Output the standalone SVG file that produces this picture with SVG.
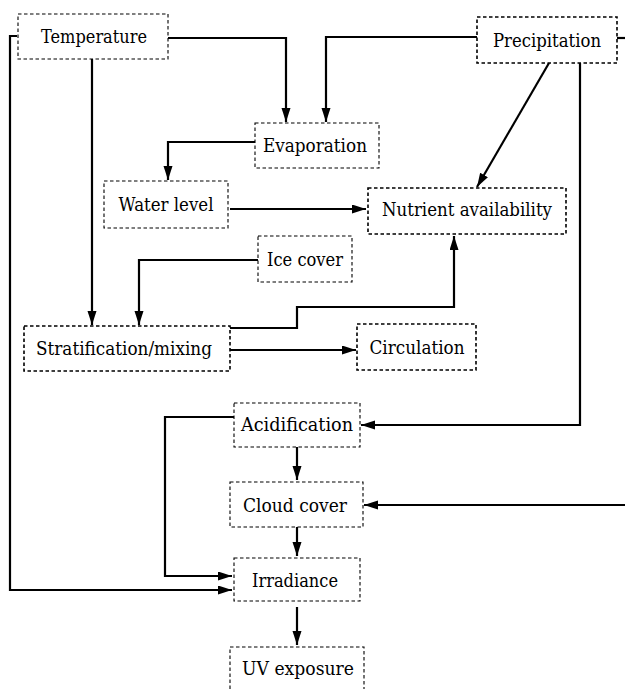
<svg xmlns="http://www.w3.org/2000/svg" width="625" height="689" viewBox="0 0 625 689">
<style>
.box{fill:#fff;stroke:#000;stroke-width:1.1;stroke-dasharray:3.5 2.5}
.bold{stroke-width:1.6}
.lbl{font-family:'DejaVu Serif','Liberation Serif',serif;font-size:19px;fill:#000;text-anchor:middle}
.c{fill:none;stroke:#000;stroke-width:2.2}
</style>
<defs>
<marker id="ah" markerUnits="userSpaceOnUse" markerWidth="16" markerHeight="11" refX="14" refY="4.5" orient="auto">
<path d="M0,0 L14,4.5 L0,9 z" fill="#000"/>
</marker>
</defs>
<rect width="625" height="689" fill="#fff"/>
<g id="connectors">
<path class="c" d="M17,36 H10 V590 H232" marker-end="url(#ah)"/>
<path class="c" d="M168,38 H286 V122" marker-end="url(#ah)"/>
<path class="c" d="M92,59 V325" marker-end="url(#ah)"/>
<path class="c" d="M477,37 H326 V122" marker-end="url(#ah)"/>
<path class="c" d="M617,38 H625"/>
<path class="c" d="M255,142 H168 V180" marker-end="url(#ah)"/>
<path class="c" d="M230,209 H366" marker-end="url(#ah)"/>
<path class="c" d="M549,63 L477,187" marker-end="url(#ah)"/>
<path class="c" d="M580,63 V425 H361" marker-end="url(#ah)"/>
<path class="c" d="M258,260 H139 V325" marker-end="url(#ah)"/>
<path class="c" d="M230,328 H297 V307 H454 V236" marker-end="url(#ah)"/>
<path class="c" d="M230,350 H356" marker-end="url(#ah)"/>
<path class="c" d="M234,417 H165 V576 H232" marker-end="url(#ah)"/>
<path class="c" d="M297,447 V480" marker-end="url(#ah)"/>
<path class="c" d="M625,505 H364" marker-end="url(#ah)"/>
<path class="c" d="M297,527 V556" marker-end="url(#ah)"/>
<path class="c" d="M297,607 V645" marker-end="url(#ah)"/>
</g>
<g id="temperature"><rect class="box" x="18" y="14" width="150" height="45"/><text class="lbl" x="94" y="43" textLength="106" lengthAdjust="spacingAndGlyphs">Temperature</text></g>
<g id="precipitation"><rect class="box bold" x="477" y="17" width="140" height="46"/><text class="lbl" x="547" y="47" textLength="108" lengthAdjust="spacingAndGlyphs">Precipitation</text></g>
<g id="evaporation"><rect class="box" x="255" y="123" width="124" height="45"/><text class="lbl" x="315" y="152" textLength="104" lengthAdjust="spacingAndGlyphs">Evaporation</text></g>
<g id="water-level"><rect class="box" x="104" y="181" width="124" height="47"/><text class="lbl" x="166" y="211" textLength="95" lengthAdjust="spacingAndGlyphs">Water level</text></g>
<g id="nutrient-availability"><rect class="box bold" x="368" y="188" width="198" height="46"/><text class="lbl" x="467" y="216" textLength="170" lengthAdjust="spacingAndGlyphs">Nutrient availability</text></g>
<g id="ice-cover"><rect class="box" x="258" y="236" width="94" height="46"/><text class="lbl" x="305" y="266" textLength="76" lengthAdjust="spacingAndGlyphs">Ice cover</text></g>
<g id="stratification"><rect class="box bold" x="24" y="326" width="206" height="45"/><text class="lbl" x="124" y="355" textLength="176" lengthAdjust="spacingAndGlyphs">Stratification/mixing</text></g>
<g id="circulation"><rect class="box bold" x="357" y="324" width="119" height="46"/><text class="lbl" x="417" y="354" textLength="95" lengthAdjust="spacingAndGlyphs">Circulation</text></g>
<g id="acidification"><rect class="box" x="234" y="403" width="126" height="44"/><text class="lbl" x="297" y="431" textLength="112" lengthAdjust="spacingAndGlyphs">Acidification</text></g>
<g id="cloud-cover"><rect class="box" x="230" y="482" width="133" height="45"/><text class="lbl" x="295" y="512" textLength="104" lengthAdjust="spacingAndGlyphs">Cloud cover</text></g>
<g id="irradiance"><rect class="box" x="234" y="558" width="126" height="43"/><text class="lbl" x="295" y="587" textLength="86" lengthAdjust="spacingAndGlyphs">Irradiance</text></g>
<g id="uv-exposure"><rect class="box" x="230" y="647" width="134" height="52"/><text class="lbl" x="298" y="675" textLength="112" lengthAdjust="spacingAndGlyphs">UV exposure</text></g>
</svg>
